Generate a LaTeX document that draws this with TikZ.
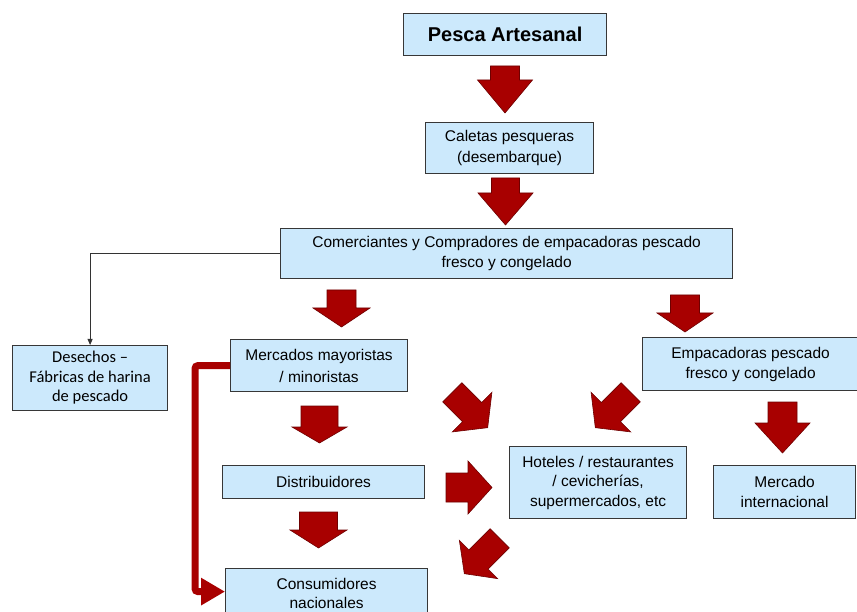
\documentclass[tikz,border=0pt]{standalone}
\usepackage{fontspec}
\setmainfont{Liberation Sans}
\newfontfamily\calib{Carlito}
\usetikzlibrary{arrows.meta}
\definecolor{boxfill}{RGB}{204,233,252}
\definecolor{boxline}{RGB}{55,55,55}
\definecolor{arrred}{RGB}{168,0,0}
\definecolor{arrdark}{RGB}{110,0,0}
% name, cx, cy, angle, L, s, w, h
\newcommand{\blockarr}[8]{%
  \begin{scope}[shift={(#2,#3)}, rotate=#4]
    \coordinate (#1) at (0,0);
    \path[bigarrow] ({-#7/2},{-#5/2}) -- ({#7/2},{-#5/2}) -- ({#7/2},{-#5/2+#6})
      -- ({#8/2},{-#5/2+#6}) -- (0,{#5/2}) -- ({-#8/2},{-#5/2+#6})
      -- ({-#7/2},{-#5/2+#6}) -- cycle;
  \end{scope}}
\tikzset{
  box/.style={draw=boxline, fill=boxfill, line width=1.2pt, anchor=north west,
    inner sep=2pt, align=center, font=\fontsize{15.5}{21}\selectfont},
  bigarrow/.style={fill=arrred, draw=arrdark, line width=0.6pt, line join=miter},
  redline/.style={draw=arrred, line width=7pt, rounded corners=3pt,
    -{Triangle[length=24pt,width=26pt]}},
  thinline/.style={draw=black!80, line width=0.8pt, -{Triangle[length=6pt,width=5pt]}}
}
\begin{document}
\begin{tikzpicture}[x=1pt, y=-1pt]
\useasboundingbox (0,0) rectangle (857,612);
\fill[white] (0,0) rectangle (857,612);

\node[box, minimum width=203pt, minimum height=42pt, font=\fontsize{20}{24}\selectfont\bfseries] (pesca) at (403,13) {Pesca Artesanal};
\node[box, minimum width=168pt, minimum height=51pt] (caletas) at (425,122) {Caletas pesqueras\\(desembarque)};
\node[box, minimum width=452pt, minimum height=50pt, font=\fontsize{15.5}{20}\selectfont] (comer) at (280,228) {Comerciantes y Compradores de empacadoras pescado\\fresco y congelado};
\node[box, minimum width=155pt, minimum height=65pt, font=\fontsize{16.5}{19.5}\calib] (desechos) at (12,345) {Desechos –\\Fábricas de harina\\de pescado};
\node[box, minimum width=177pt, minimum height=52pt, font=\fontsize{15.5}{22}\selectfont] (mercados) at (230,339) {Mercados mayoristas\\/ minoristas};
\node[box, minimum width=216pt, minimum height=53pt, font=\fontsize{15.5}{20}\selectfont] (empac) at (642,337) {Empacadoras pescado\\fresco y congelado};
\node[box, minimum width=202pt, minimum height=33pt] (distrib) at (222,465) {Distribuidores};
\node[box, minimum width=202pt, minimum height=50pt, font=\fontsize{15.5}{19}\selectfont] (consum) at (225,568) {Consumidores\\nacionales};
\node[box, minimum width=177pt, minimum height=72pt, font=\fontsize{15.5}{19.5}\selectfont] (hoteles) at (509,446) {Hoteles / restaurantes\\/ cevicherías,\\supermercados, etc};
\node[box, minimum width=142pt, minimum height=53pt, font=\fontsize{15.5}{20}\selectfont] (mercint) at (713,465) {Mercado\\internacional};

\blockarr{a1}{505}{89.5}{0}{47}{14}{29}{55}
\blockarr{a2}{505.5}{201.5}{0}{47}{15}{28}{55}
\blockarr{a3}{341.5}{308.5}{0}{37}{18}{29}{57}
\blockarr{a4}{685}{313.5}{0}{37}{18}{29}{56}
\blockarr{a5}{319.5}{424.5}{0}{37}{21}{37}{55}
\blockarr{a6}{318.5}{530}{0}{36}{18}{38}{57}
\blockarr{a7}{782.5}{427.5}{0}{51}{21}{29}{55}
\blockarr{a8}{469}{487.5}{90}{46}{22}{29}{53}
\blockarr{a9}{470}{410}{45}{50}{28}{27}{56}
\blockarr{a10}{613}{410}{-45}{50}{28}{27}{56}
\blockarr{a11}{482}{556}{-45}{50}{30}{27}{54}

\draw[thinline] (comer.west) -| (desechos.north);
\draw[redline] (mercados.west) -- ([xshift=-35pt]mercados.west) |- ([yshift=2pt]consum.west);
\end{tikzpicture}
\end{document}
